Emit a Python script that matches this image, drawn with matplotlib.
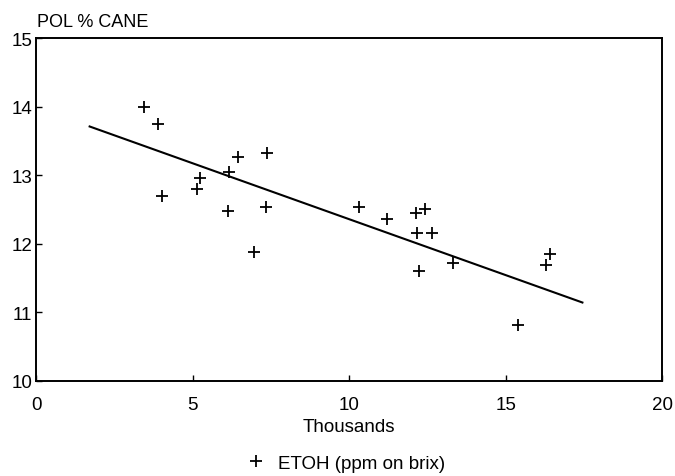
import matplotlib.pyplot as plt

# ETOH (thousands of ppm on brix) vs POL % cane
etoh = [3.45, 3.9, 4.0, 5.14, 5.24, 6.13, 6.17, 6.45, 7.38, 7.35, 6.96,
        10.32, 11.21, 12.14, 12.43, 12.17, 12.65, 12.24, 13.32, 16.29, 16.42, 15.4]
pol = [14.0, 13.74, 12.69, 12.79, 12.96, 12.47, 13.05, 13.27, 13.32, 12.53, 11.88,
       12.53, 12.36, 12.45, 12.5, 12.16, 12.16, 11.6, 11.72, 11.69, 11.85, 10.81]

# regression line end points
trend_x = [1.7, 17.45]
trend_y = [13.71, 11.14]

xticks = [0, 5, 10, 15, 20]
yticks = [10, 11, 12, 13, 14, 15]

plt.rcParams['font.family'] = ['Liberation Sans', 'DejaVu Sans']

fig = plt.figure(figsize=(6.75, 4.77), dpi=100)
ax = fig.add_axes([0.054, 0.2, 0.927, 0.718])

ax.plot(etoh, pol, linestyle='none', marker='+', color='black',
        markersize=9, markeredgewidth=1.3, label='ETOH (ppm on brix)')
ax.plot(trend_x, trend_y, color='black', linewidth=1.5)

ax.set_xlim(0, 20)
ax.set_ylim(10, 15)
ax.set_xticks(xticks)
ax.set_yticks(yticks)
ax.tick_params(direction='in', length=4, width=1, labelsize=13.5)
ax.tick_params(axis='x', pad=11)
ax.tick_params(axis='y', pad=3)
for s in ax.spines.values():
    s.set_linewidth(1.4)

ax.set_xlabel('Thousands', fontsize=13.5, labelpad=4)
fig.text(0.055, 0.952, 'POL % CANE', fontsize=13, ha='left', va='center')

# legend placed in figure coords so it stays inside the canvas
fig.legend(*ax.get_legend_handles_labels(), loc='center',
           bbox_to_anchor=(0.512, 0.027), frameon=False, borderpad=0.1,
           fontsize=13.5, handlelength=1, handletextpad=0.65)

fig.savefig('out.png', dpi=100)
